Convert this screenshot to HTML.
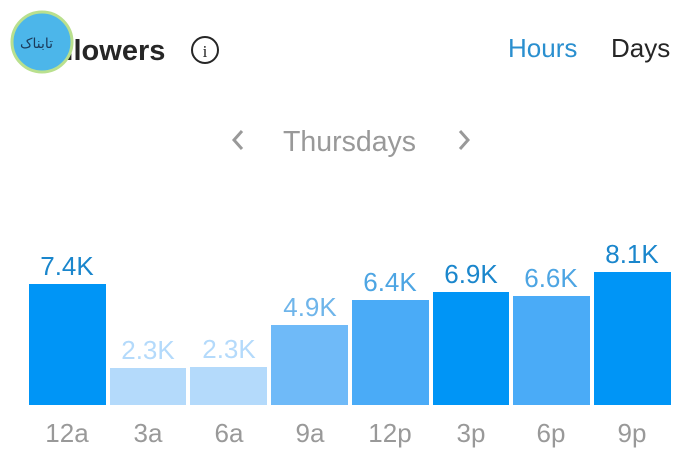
<!DOCTYPE html>
<html><head><meta charset="utf-8"><style>
html,body{margin:0;padding:0;background:#fff;width:700px;height:467px;overflow:hidden}
</style></head><body>
<svg width="700" height="467" xmlns="http://www.w3.org/2000/svg" font-family="Liberation Sans, Arial, sans-serif">
<rect width="700" height="467" fill="#fff"/>
<text x="30" y="60" font-size="29" font-weight="bold" fill="#262626">Followers</text>
<circle cx="42" cy="42" r="30" fill="#4cb6ea" stroke="#b9e08e" stroke-width="3"/>
<text x="20" y="48" font-size="14" fill="#1a3a5a" font-family="DejaVu Sans, sans-serif">تابناک</text>
<circle cx="205" cy="50" r="13" fill="none" stroke="#262626" stroke-width="2"/>
<text x="205" y="57" font-size="17" text-anchor="middle" fill="#262626" font-family="Liberation Serif, serif">i</text>
<text x="508" y="57" font-size="26" fill="#2a8fcf">Hours</text>
<text x="611" y="57" font-size="26" fill="#262626">Days</text>
<polyline points="242,131 234,140 242,149" fill="none" stroke="#999" stroke-width="3"/>
<text x="283" y="151" font-size="28.5" fill="#999">Thursdays</text>
<polyline points="460,131 468,140 460,149" fill="none" stroke="#999" stroke-width="3"/>
<g>
<rect x="29" y="284" width="77" height="121" fill="#0095f6"/>
<rect x="110" y="368" width="76" height="37" fill="#b4dafb"/>
<rect x="190" y="367" width="77" height="38" fill="#b4dafb"/>
<rect x="271" y="325" width="77" height="80" fill="#6fbaf8"/>
<rect x="352" y="300" width="77" height="105" fill="#4aabf7"/>
<rect x="433" y="292" width="76" height="113" fill="#0095f6"/>
<rect x="513" y="296" width="77" height="109" fill="#4aabf7"/>
<rect x="594" y="272" width="77" height="133" fill="#0095f6"/>
</g>
<g font-size="26" text-anchor="middle">
<text x="67" y="275" fill="#1a86cc">7.4K</text>
<text x="148" y="359" fill="#b4dafb">2.3K</text>
<text x="229" y="358" fill="#b4dafb">2.3K</text>
<text x="310" y="316" fill="#6fb5ea">4.9K</text>
<text x="390" y="291" fill="#4da5e3">6.4K</text>
<text x="471" y="283" fill="#1a86cc">6.9K</text>
<text x="551" y="287" fill="#4da5e3">6.6K</text>
<text x="632" y="263" fill="#1a86cc">8.1K</text>
</g>
<g font-size="26" text-anchor="middle" fill="#999">
<text x="67" y="442">12a</text>
<text x="148" y="442">3a</text>
<text x="229" y="442">6a</text>
<text x="310" y="442">9a</text>
<text x="390" y="442">12p</text>
<text x="471" y="442">3p</text>
<text x="551" y="442">6p</text>
<text x="632" y="442">9p</text>
</g>
</svg>
</body></html>
